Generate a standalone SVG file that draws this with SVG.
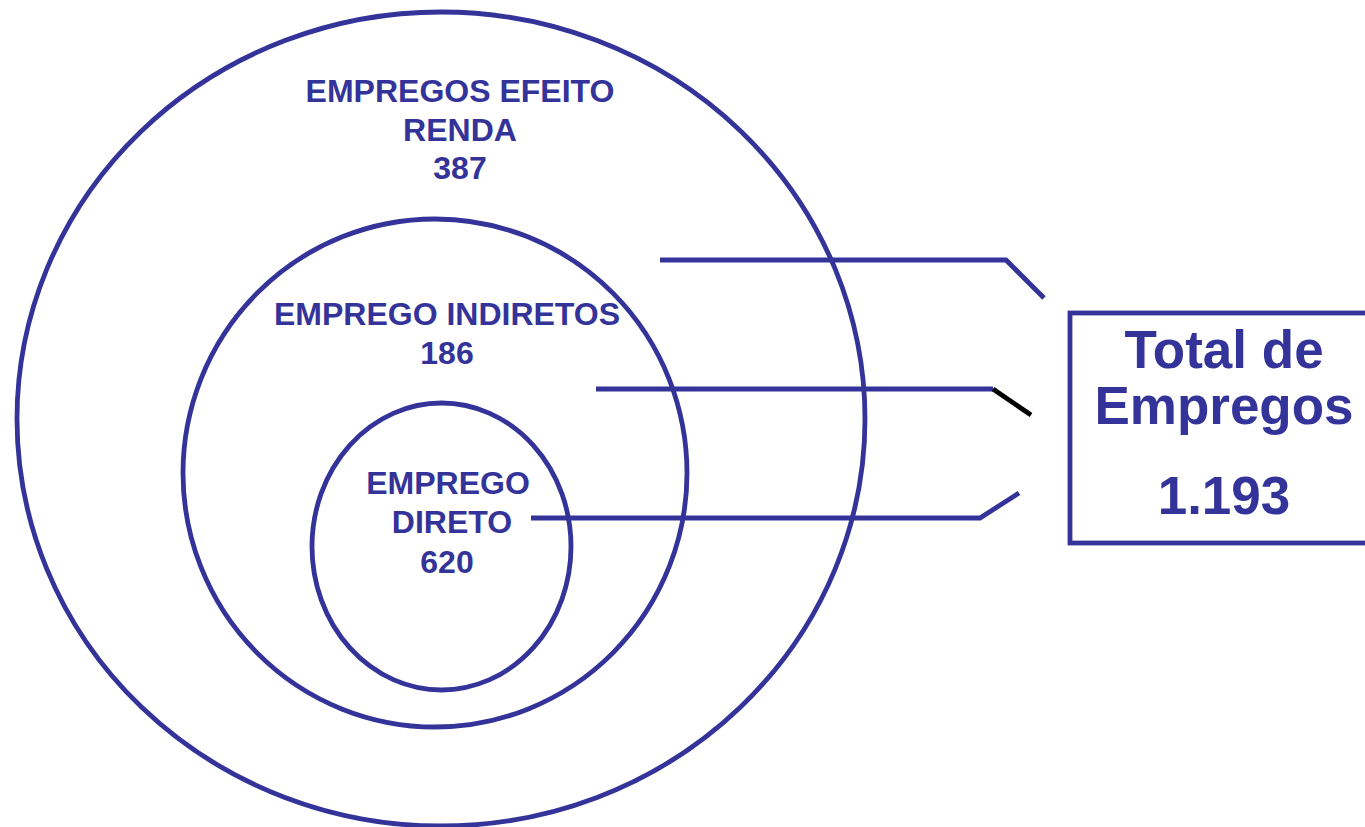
<svg xmlns="http://www.w3.org/2000/svg" width="1365" height="827" viewBox="0 0 1365 827">
<style>
.ring{fill:none;stroke:#333399;stroke-width:4.8}
.lbl{font-family:"Liberation Sans",Arial,sans-serif;font-weight:bold;fill:#333399;text-anchor:middle}
.s{font-size:32px}
.b{font-size:53px}
.conn{fill:none;stroke:#333399;stroke-width:4.8}
</style>
<rect width="1365" height="827" fill="#ffffff"/>
<g id="outer">
<ellipse class="ring" cx="441" cy="419" rx="424" ry="407"/>
<text class="lbl s" x="460" y="102">EMPREGOS EFEITO</text>
<text class="lbl s" x="460" y="141">RENDA</text>
<text class="lbl s" x="460" y="179">387</text>
</g>
<g id="middle">
<ellipse class="ring" cx="435" cy="473" rx="252" ry="254"/>
<text class="lbl s" x="447" y="325">EMPREGO INDIRETOS</text>
<text class="lbl s" x="447" y="364">186</text>
</g>
<g id="inner">
<ellipse class="ring" cx="441.5" cy="546.5" rx="129.5" ry="143.5"/>
<text class="lbl s" x="448" y="494">EMPREGO</text>
<text class="lbl s" x="452" y="533">DIRETO</text>
<text class="lbl s" x="447" y="573">620</text>
</g>
<g id="total">
<rect x="1070" y="313" width="310" height="230" fill="none" stroke="#333399" stroke-width="4.8"/>
<text class="lbl b" x="1224" y="368">Total de</text>
<text class="lbl b" x="1224" y="424">Empregos</text>
<text class="lbl b" x="1224" y="514">1.193</text>
</g>
<g id="connectors">
<polyline class="conn" points="660,260 1006,260 1044,298"/>
<polyline class="conn" points="596,389 993,389"/>
<line x1="993" y1="389" x2="1031" y2="415" stroke="#000000" stroke-width="4.8"/>
<polyline class="conn" points="531,518 980,518 1019,493"/>
</g>
</svg>
